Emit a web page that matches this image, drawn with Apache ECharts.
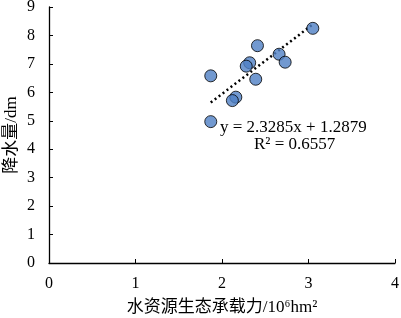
<!DOCTYPE html>
<html>
<head>
<meta charset="utf-8">
<script src="https://cdn.jsdelivr.net/npm/echarts@6/dist/echarts.min.js"></script>
<style>
  html, body { margin: 0; padding: 0; background: #fff; }
  #chart { width: 401px; height: 318px; }
</style>
</head>
<body>
<div id="chart"></div>
<script>
const capacity = [3.05, 2.41, 2.66, 2.73, 2.32, 2.28, 2.39, 1.87, 2.16, 2.12, 1.87];
const rainfall = [8.25, 7.64, 7.34, 7.06, 7.04, 6.92, 6.46, 6.58, 5.83, 5.71, 4.97];
const slope = 2.3285;
const intercept = 1.2879;
const equationText = "y = 2.3285x + 1.2879";
const r2Text = "R² = 0.6557";

const points = capacity.map((x, i) => [x, rainfall[i]]);
const xMin = Math.min(...capacity);
const xMax = Math.max(...capacity);
const trend = [
  [xMin, slope * xMin + intercept],
  [xMax, slope * xMax + intercept],
];

const font = "'Liberation Serif', 'Times New Roman', serif";
const cjkFont = "'Liberation Serif', 'Noto Sans CJK SC', serif";

const chart = echarts.init(document.getElementById("chart"));
chart.setOption({
  animation: false,
  backgroundColor: "#fff",
  grid: {
    left: 49,
    right: 6,
    top: 7,
    bottom: 55,
    containLabel: false,
    outerBoundsMode: "none",
  },
  xAxis: {
    type: "value",
    min: 0,
    max: 4,
    interval: 1,
    name: "水资源生态承载力/10⁶hm²",
    nameLocation: "middle",
    nameGap: 36,
    nameTextStyle: { fontFamily: cjkFont, fontSize: 17, color: "#000" },
    axisLine: { show: true, lineStyle: { color: "#000", width: 1.3 } },
    axisTick: { show: true, inside: true, length: 4, lineStyle: { color: "#000" } },
    axisLabel: { fontFamily: font, fontSize: 16, color: "#000", margin: 13 },
    splitLine: { show: false },
  },
  yAxis: {
    type: "value",
    min: 0,
    max: 9,
    interval: 1,
    name: "降水量/dm",
    nameLocation: "middle",
    nameGap: 29,
    nameRotate: 90,
    nameMoveOverlap: false,
    nameTextStyle: { fontFamily: cjkFont, fontSize: 17, color: "#000" },
    axisLine: { show: true, lineStyle: { color: "#000", width: 1.3 } },
    axisTick: { show: true, inside: true, length: 4, lineStyle: { color: "#000" } },
    axisLabel: { fontFamily: font, fontSize: 16, color: "#000", margin: 14 },
    splitLine: { show: false },
  },
  series: [
    {
      type: "line",
      data: trend,
      symbol: "none",
      lineStyle: { color: "#000", width: 2.5, type: [2, 3] },
      z: 1,
    },
    {
      type: "scatter",
      data: points,
      symbolSize: 12,
      itemStyle: { color: "#4f7fc4", borderColor: "#000", borderWidth: 1 },
      z: 2,
    },
  ],
  graphic: [
    {
      type: "text",
      left: 220,
      top: 119,
      style: { text: equationText, font: "17px " + font, fill: "#000" },
    },
    {
      type: "text",
      left: 254,
      top: 136,
      style: { text: r2Text, font: "17px " + font, fill: "#000" },
    },
  ],
});
</script>
</body>
</html>
